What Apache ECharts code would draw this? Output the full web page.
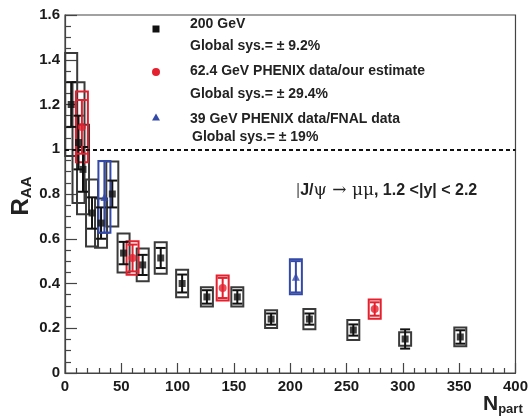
<!DOCTYPE html>
<html>
<head>
<meta charset="utf-8">
<script src="https://cdn.jsdelivr.net/npm/echarts@6/dist/echarts.min.js"></script>
<style>
  html, body { margin: 0; padding: 0; background: #fff; }
  #chart { width: 531px; height: 417px; }
</style>
</head>
<body>
<div id="chart"></div>
<script>
// J/psi -> mu mu nuclear modification factor vs. number of participants

// 200 GeV
const npart200 = [5.5, 12, 16, 24, 32, 42, 52, 69, 85, 104, 126, 153, 183, 217, 256, 302, 351];
const raa200   = [1.20, 1.03, 0.91, 0.715, 0.67, 0.80, 0.536, 0.483, 0.514, 0.40, 0.34, 0.34, 0.241, 0.241, 0.192, 0.152, 0.161];
const stat200  = [0.10, 0.12, 0.10, 0.07, 0.07, 0.06, 0.05, 0.045, 0.045, 0.04, 0.03, 0.03, 0.025, 0.025, 0.025, 0.043, 0.03];
const sys200   = [0.23, 0.27, 0.20, 0.15, 0.11, 0.145, 0.087, 0.073, 0.07, 0.062, 0.043, 0.043, 0.04, 0.045, 0.045, 0.03, 0.042];

// 62.4 GeV PHENIX data / estimate
const npart62 = [15, 60, 140, 275];
const raa62   = [1.10, 0.514, 0.38, 0.286];
const stat62  = [0.12, 0.06, 0.045, 0.03];
const sys62   = [0.158, 0.075, 0.056, 0.043];

// 39 GeV PHENIX data / FNAL data
const npart39 = [35, 205];
const raa39   = [0.787, 0.43];
const stat39  = [0.16, 0.07];
const sys39   = [0.16, 0.078];

// axis ticks
const xTicks = [0, 50, 100, 150, 200, 250, 300, 350, 400];
const yTicks = [0, 0.2, 0.4, 0.6, 0.8, 1, 1.2, 1.4, 1.6];

const BLACK = '#111111';
const BOXGRAY = '#3a3a3a';
const RED = '#e5202e';
const BLUE = '#3349a8';
const FONT = '"Liberation Sans", Arial, Helvetica, sans-serif';

function rows(xs, ys, es) { return xs.map((x, i) => [x, ys[i], es[i]]); }

// systematic-uncertainty box, fixed pixel width
function boxRenderer(color) {
  return function (params, api) {
    const x = api.value(0), y = api.value(1), s = api.value(2);
    const top = api.coord([x, y + s]);
    const bot = api.coord([x, y - s]);
    const hw = 6;
    return {
      type: 'rect',
      shape: { x: top[0] - hw, y: top[1], width: 2 * hw, height: bot[1] - top[1] },
      style: { fill: 'none', stroke: color, lineWidth: 2 }
    };
  };
}

// statistical error bar with caps
function barRenderer(color) {
  return function (params, api) {
    const x = api.value(0), y = api.value(1), e = api.value(2);
    const top = api.coord([x, y + e]);
    const bot = api.coord([x, y - e]);
    const cw = 5;
    const st = { stroke: color, lineWidth: 2 };
    return {
      type: 'group',
      children: [
        { type: 'line', shape: { x1: top[0], y1: top[1], x2: bot[0], y2: bot[1] }, style: st },
        { type: 'line', shape: { x1: top[0] - cw, y1: top[1], x2: top[0] + cw, y2: top[1] }, style: st },
        { type: 'line', shape: { x1: bot[0] - cw, y1: bot[1], x2: bot[0] + cw, y2: bot[1] }, style: st }
      ]
    };
  };
}

const chart = echarts.init(document.getElementById('chart'), null, { renderer: 'canvas' });

const axisLabelStyle = { fontFamily: FONT, fontWeight: 'bold', fontSize: 15, color: '#1a1a1a' };
const LEG = 'bold 14px ' + FONT;

const option = {
  animation: false,
  backgroundColor: '#ffffff',
  grid: {
    left: 65, top: 15, width: 453, height: 358,
    show: true, borderColor: '#444', borderWidth: 1.2, backgroundColor: 'transparent'
  },
  xAxis: {
    type: 'value', min: xTicks[0], max: xTicks[xTicks.length - 1], interval: 50,
    axisLine: { show: true, onZero: false, lineStyle: { color: '#444', width: 1.2 } },
    axisTick: { show: true, inside: true, length: 10, lineStyle: { color: '#444', width: 1.2 } },
    minorTick: { show: true, splitNumber: 5, length: 5, lineStyle: { color: '#444', width: 1.2 } },
    splitLine: { show: false },
    axisLabel: Object.assign({ margin: 6 }, axisLabelStyle)
  },
  yAxis: {
    type: 'value', min: yTicks[0], max: yTicks[yTicks.length - 1], interval: 0.2,
    axisLine: { show: true, onZero: false, lineStyle: { color: '#444', width: 1.2 } },
    axisTick: { show: true, inside: true, length: 12, lineStyle: { color: '#444', width: 1.2 } },
    minorTick: { show: true, splitNumber: 4, length: 6, lineStyle: { color: '#444', width: 1.2 } },
    splitLine: { show: false },
    axisLabel: Object.assign({ margin: 5 }, axisLabelStyle)
  },
  series: [
    {
      type: 'line', silent: true, symbol: 'none', data: [],
      markLine: {
        silent: true, symbol: 'none', label: { show: false },
        lineStyle: { color: '#111', type: [4, 3], width: 2.2 },
        data: [{ yAxis: 1 }]
      }
    },
    { type: 'custom', renderItem: boxRenderer(BOXGRAY), data: rows(npart200, raa200, sys200), z: 3 },
    { type: 'custom', renderItem: boxRenderer(RED), data: rows(npart62, raa62, sys62), z: 4 },
    { type: 'custom', renderItem: boxRenderer(BLUE), data: rows(npart39, raa39, sys39), z: 4 },
    { type: 'custom', renderItem: barRenderer(BLACK), data: rows(npart200, raa200, stat200), z: 5 },
    { type: 'custom', renderItem: barRenderer(RED), data: rows(npart62, raa62, stat62), z: 5 },
    { type: 'custom', renderItem: barRenderer(BLUE), data: rows(npart39, raa39, stat39), z: 5 },
    {
      name: '200 GeV', type: 'scatter', symbol: 'rect', symbolSize: 7, z: 6,
      itemStyle: { color: BLACK }, data: npart200.map((x, i) => [x, raa200[i]])
    },
    {
      name: '62.4 GeV', type: 'scatter', symbol: 'circle', symbolSize: 8, z: 6,
      itemStyle: { color: RED }, data: npart62.map((x, i) => [x, raa62[i]])
    },
    {
      name: '39 GeV', type: 'scatter', symbol: 'triangle', symbolSize: 8, z: 6,
      itemStyle: { color: BLUE }, data: npart39.map((x, i) => [x, raa39[i]])
    }
  ],
  graphic: [
    // legend
    { type: 'rect', shape: { x: 152.5, y: 25.5, width: 7, height: 7 }, style: { fill: BLACK } },
    { type: 'text', x: 190, y: 24, style: { text: '200 GeV', font: LEG, fill: '#222', verticalAlign: 'middle' } },
    { type: 'text', x: 190, y: 46, style: { text: 'Global sys.= ± 9.2%', font: LEG, fill: '#222', verticalAlign: 'middle' } },
    { type: 'circle', shape: { cx: 156, cy: 72, r: 4 }, style: { fill: RED } },
    { type: 'text', x: 190, y: 71, style: { text: '62.4 GeV PHENIX data/our estimate', font: LEG, fill: '#222', verticalAlign: 'middle' } },
    { type: 'text', x: 190, y: 94, style: { text: 'Global sys.= ± 29.4%', font: LEG, fill: '#222', verticalAlign: 'middle' } },
    { type: 'polygon', shape: { points: [[156, 113.5], [160, 120.5], [152, 120.5]] }, style: { fill: BLUE } },
    { type: 'text', x: 190, y: 119, style: { text: '39 GeV PHENIX data/FNAL data', font: LEG, fill: '#222', verticalAlign: 'middle' } },
    { type: 'text', x: 192, y: 137, style: { text: 'Global sys.= ± 19%', font: LEG, fill: '#222', verticalAlign: 'middle' } },

    // reaction / rapidity annotation
    {
      type: 'text', x: 296, y: 191,
      style: {
        text: '{bar||}{b|J/}{g|ψ → μμ}{b|, 1.2 <|y| < 2.2}',
        verticalAlign: 'middle',
        rich: {
          bar: { font: '16px ' + FONT, fill: '#555' },
          b: { font: 'bold 16px ' + FONT, fill: '#222' },
          g: { font: '17px "DejaVu Serif", "Liberation Serif", serif', fill: '#222' }
        }
      }
    },

    // axis titles
    {
      type: 'text', x: 21, y: 196, rotation: Math.PI / 2,
      style: {
        text: '{r|R}{s|AA}',
        align: 'center', verticalAlign: 'middle',
        rich: {
          r: { font: 'bold 24px ' + FONT, fill: '#222' },
          s: { font: 'bold 15px ' + FONT, fill: '#222', padding: [12, 0, 0, 0] }
        }
      }
    },
    {
      type: 'text', x: 483, y: 404,
      style: {
        text: '{n|N}{s|part}',
        verticalAlign: 'middle',
        rich: {
          n: { font: 'bold 21px ' + FONT, fill: '#222' },
          s: { font: 'bold 13px ' + FONT, fill: '#222', padding: [10, 0, 0, 0] }
        }
      }
    }
  ]
};

chart.setOption(option);
</script>
</body>
</html>
